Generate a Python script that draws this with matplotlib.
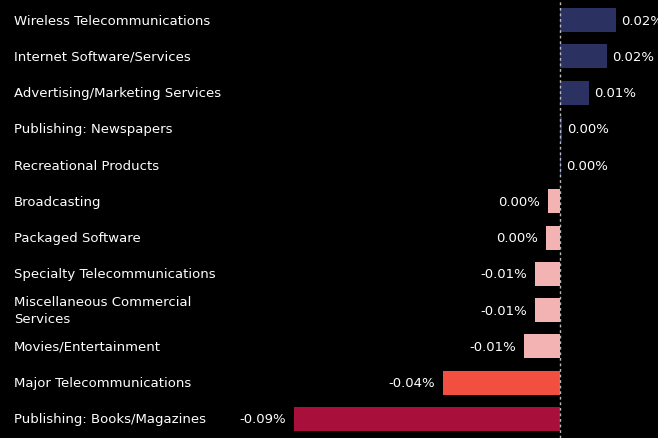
import matplotlib
matplotlib.use("Agg")
import matplotlib.pyplot as plt

categories = [
    "Wireless Telecommunications",
    "Internet Software/Services",
    "Advertising/Marketing Services",
    "Publishing: Newspapers",
    "Recreational Products",
    "Broadcasting",
    "Packaged Software",
    "Specialty Telecommunications",
    "Miscellaneous Commercial\nServices",
    "Movies/Entertainment",
    "Major Telecommunications",
    "Publishing: Books/Magazines",
]
values = [0.0189, 0.0159, 0.0098, 0.0008, 0.0005, -0.0041, -0.0047,
          -0.0085, -0.0085, -0.0122, -0.0396, -0.0900]
value_labels = ["0.02%", "0.02%", "0.01%", "0.00%", "0.00%", "0.00%", "0.00%",
                "-0.01%", "-0.01%", "-0.01%", "-0.04%", "-0.09%"]
colors = ["#2b3262", "#2b3262", "#2b3262", "#2b3262", "#2b3262",
          "#f4b3b3", "#f4b3b3", "#f4b3b3", "#f4b3b3", "#f4b3b3",
          "#f24f41", "#a80f3a"]

W, H = 658, 439
fig = plt.figure(figsize=(W / 100, H / 100), dpi=100, facecolor="black")
ax = fig.add_axes([0, 0, 1, 1], facecolor="black")

scale = 2956.0  # pixels per percent unit
x0 = 560.0
ax.set_xlim(-x0 / scale, (W - x0) / scale)
row_px = 36.27
top_px = 21.0
ax.set_ylim(11 + (H - 420) / row_px, -top_px / row_px)

ypos = list(range(len(categories)))
ax.barh(ypos, values, height=0.66, color=colors, zorder=2)
ax.axvline(0, color="#bbbbbb", lw=1, ls=(0, (2, 2)), zorder=3)

font = "DejaVu Sans"
for y, cat, v, lab in zip(ypos, categories, values, value_labels):
    ax.text(14 / scale + ax.get_xlim()[0], y, cat, color="white", fontsize=9.5,
            va="center", ha="left", family=font, linespacing=1.4)
    if v >= 0:
        ax.text(v + 5 / scale, y, lab, color="white", fontsize=9.5, va="center",
                ha="left", family=font)
    else:
        ax.text(v - 8 / scale, y, lab, color="white", fontsize=9.5, va="center",
                ha="right", family=font)

ax.axis("off")
fig.savefig("out.png", dpi=100, facecolor="black")
